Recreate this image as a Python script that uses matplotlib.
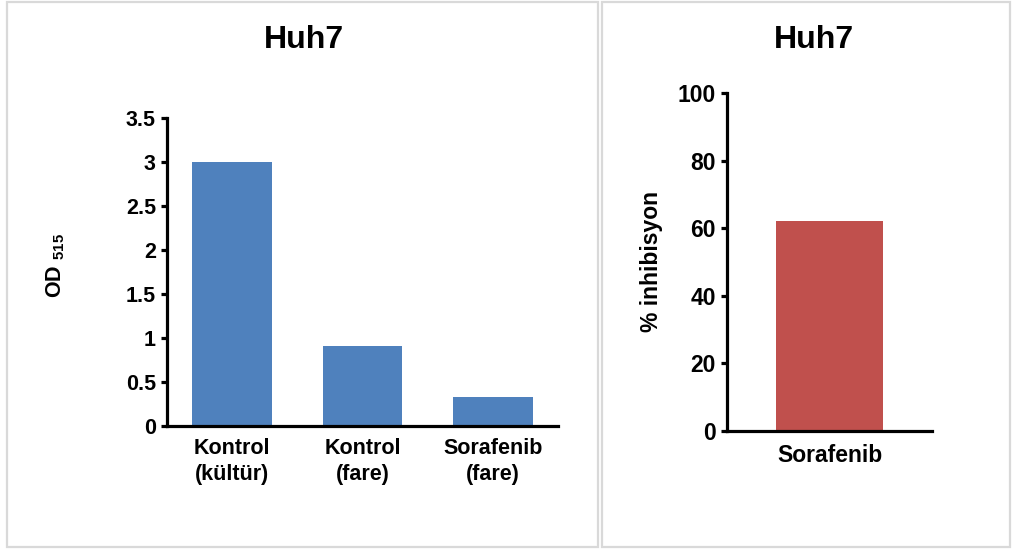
import matplotlib.pyplot as plt
from matplotlib.patches import Rectangle

plt.rcParams['font.family'] = 'sans-serif'
plt.rcParams['font.sans-serif'] = ['Liberation Sans', 'Arial', 'DejaVu Sans']
plt.rcParams['font.weight'] = 'bold'
plt.rcParams['mathtext.fontset'] = 'custom'
plt.rcParams['mathtext.rm'] = 'Liberation Sans:bold'
plt.rcParams['mathtext.default'] = 'rm'

# OD readings (left) and inhibition (right)
od_groups = ['Kontrol\n(kültür)', 'Kontrol\n(fare)', 'Sorafenib\n(fare)']
od_values = [3.0, 0.91, 0.33]
od_ticks = [0, 0.5, 1, 1.5, 2, 2.5, 3, 3.5]
od_ticklabels = ['0', '0.5', '1', '1.5', '2', '2.5', '3', '3.5']

inh_groups = ['Sorafenib']
inh_values = [62]
inh_ticks = [0, 20, 40, 60, 80, 100]

W, H = 1013, 550
fig = plt.figure(figsize=(W / 100, H / 100), dpi=100)


def px_rect(x0, y0, x1, y1):
    # pixel box (top-left origin) -> figure fraction [left, bottom, width, height]
    return [x0 / W, 1 - y1 / H, (x1 - x0) / W, (y1 - y0) / H]


# light grey frames around the two panels
for x0, x1 in [(7, 598), (602, 1010)]:
    fig.patches.append(Rectangle((x0 / W, 1 - 547 / H), (x1 - x0) / W, 545 / H,
                                 transform=fig.transFigure, fill=False,
                                 edgecolor='#d9d9d9', linewidth=1.6))


def style_axis(ax, fs):
    for s in ['top', 'right']:
        ax.spines[s].set_visible(False)
    for s in ['left', 'bottom']:
        ax.spines[s].set_linewidth(2.3)
        ax.spines[s].set_color('black')
    ax.tick_params(axis='y', direction='out', length=4, width=2.3,
                   labelsize=fs, pad=4)
    ax.tick_params(axis='x', length=0, labelsize=fs, pad=9)


# left panel
ax1 = fig.add_axes(px_rect(167, 118, 558, 426))
ax1.bar(range(len(od_values)), od_values, width=0.61, color='#4F81BD')
ax1.set_xlim(-0.5, len(od_values) - 0.5)
ax1.set_ylim(0, 3.5)
ax1.set_yticks(od_ticks)
ax1.set_yticklabels(od_ticklabels)
ax1.set_xticks(range(len(od_groups)))
ax1.set_xticklabels(od_groups, linespacing=1.3)
style_axis(ax1, 15.5)
ax1.set_ylabel('OD $_{515}$', fontsize=15.5, fontweight='bold')
ax1.yaxis.set_label_coords(-0.256, 0.52)
fig.text(304 / W, 1 - 40 / H, 'Huh7', ha='center', va='center',
         fontsize=23, fontweight='bold')

# right panel
ax2 = fig.add_axes(px_rect(727, 93, 932, 431))
ax2.bar(range(len(inh_values)), inh_values, width=0.52, color='#C0504D')
ax2.set_xlim(-0.5, 0.5)
ax2.set_ylim(0, 100)
ax2.set_yticks(inh_ticks)
ax2.set_xticks(range(len(inh_groups)))
ax2.set_xticklabels(inh_groups)
style_axis(ax2, 16.5)
ax2.set_ylabel('% inhibisyon', fontsize=16.5, fontweight='bold')
ax2.yaxis.set_label_coords(-0.312, 0.5)
fig.text(814 / W, 1 - 40 / H, 'Huh7', ha='center', va='center',
         fontsize=23, fontweight='bold')

fig.savefig('out.png', dpi=100)
